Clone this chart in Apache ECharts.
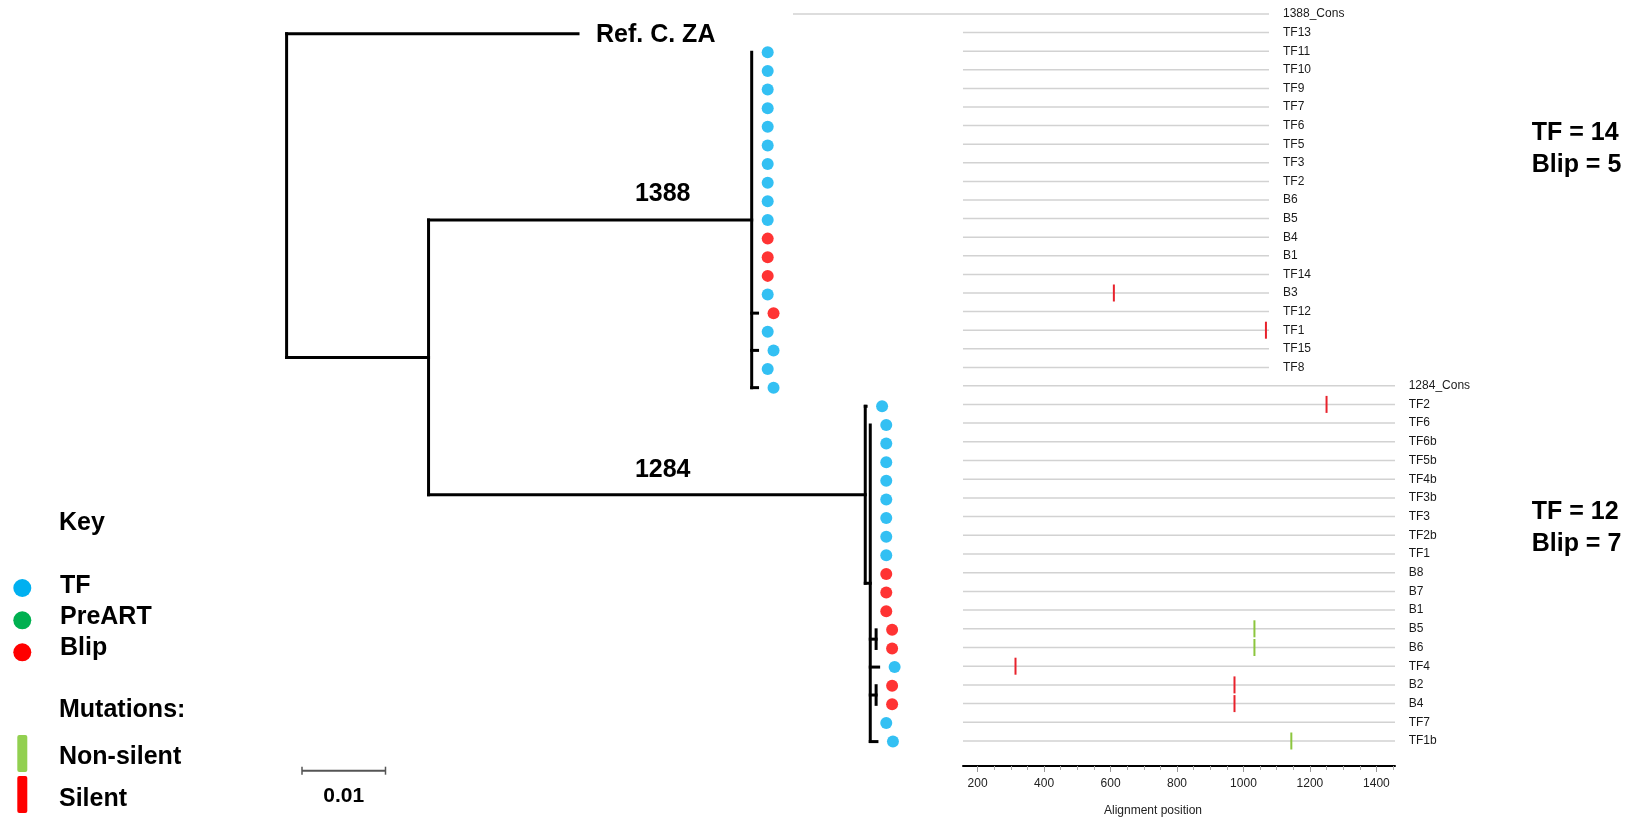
<!DOCTYPE html>
<html>
<head>
<meta charset="utf-8">
<title>1388 / 1284 tree and highlighter plot</title>
<script src="https://cdn.jsdelivr.net/npm/echarts@6/dist/echarts.min.js"></script>
<style>
  html, body { margin: 0; padding: 0; background: #fff; }
  #chart { width: 1626px; height: 818px; }
</style>
</head>
<body>
<div id="chart"></div>
<script>
  // ---------- tree ----------
  // internal nodes, divergence from root (substitutions / site)
  var nodeNames  = ['root', 'N1', 'N1388', 'N1284', 'N1284b', 'NB5B6', 'NB2B4'];
  var nodeParent = [null, 'root', 'N1', 'N1', 'N1284', 'N1284b', 'N1284b'];
  var nodeDist   = [0, 0.0170, 0.0557, 0.0693, 0.0699, 0.0706, 0.0706];

  // tips, top to bottom (row = position in these arrays)
  var tipParent = ['root',
    'N1388', 'N1388', 'N1388', 'N1388', 'N1388', 'N1388', 'N1388', 'N1388', 'N1388', 'N1388',
    'N1388', 'N1388', 'N1388', 'N1388', 'N1388', 'N1388', 'N1388', 'N1388', 'N1388',
    'N1284', 'N1284b', 'N1284b', 'N1284b', 'N1284b', 'N1284b', 'N1284b', 'N1284b', 'N1284b',
    'N1284b', 'N1284b', 'N1284b', 'NB5B6', 'NB5B6', 'N1284b', 'NB2B4', 'NB2B4', 'N1284b', 'N1284b'];
  var tipDist = [0.0349,
    0.0557, 0.0557, 0.0557, 0.0557, 0.0557, 0.0557, 0.0557, 0.0557, 0.0557, 0.0557,
    0.0557, 0.0557, 0.0557, 0.0557, 0.0564, 0.0557, 0.0564, 0.0557, 0.0564,
    0.0694, 0.0699, 0.0699, 0.0699, 0.0699, 0.0699, 0.0699, 0.0699, 0.0699,
    0.0699, 0.0699, 0.0699, 0.0706, 0.0706, 0.0709, 0.0706, 0.0706, 0.0699, 0.0707];
  var tipType = ['Ref',
    'TF', 'TF', 'TF', 'TF', 'TF', 'TF', 'TF', 'TF', 'TF', 'TF',
    'Blip', 'Blip', 'Blip', 'TF', 'Blip', 'TF', 'TF', 'TF', 'TF',
    'TF', 'TF', 'TF', 'TF', 'TF', 'TF', 'TF', 'TF', 'TF',
    'Blip', 'Blip', 'Blip', 'Blip', 'Blip', 'TF', 'Blip', 'Blip', 'TF', 'TF'];

  // ---------- highlighter plots ----------
  var upperNames = ['1388_Cons', 'TF13', 'TF11', 'TF10', 'TF9', 'TF7', 'TF6', 'TF5', 'TF3', 'TF2',
    'B6', 'B5', 'B4', 'B1', 'TF14', 'B3', 'TF12', 'TF1', 'TF15', 'TF8'];
  var lowerNames = ['1284_Cons', 'TF2', 'TF6', 'TF6b', 'TF5b', 'TF4b', 'TF3b', 'TF3', 'TF2b', 'TF1',
    'B8', 'B7', 'B1', 'B5', 'B6', 'TF4', 'B2', 'B4', 'TF7', 'TF1b'];
  var alignStart = 156;
  var alignEnd = 1456;
  var upperConsStart = -566;   // the 1388 consensus line runs further left

  // [sequence, alignment position, kind]
  var upperMutations = [['B3', 797, 'silent'], ['TF1', 1443, 'silent']];
  var lowerMutations = [['TF2', 1250, 'silent'], ['B5', 1033, 'nonsilent'], ['B6', 1033, 'nonsilent'],
    ['TF4', 314, 'silent'], ['B2', 973, 'silent'], ['B4', 973, 'silent'], ['TF1b', 1144, 'nonsilent']];

  var majorTicks = [200, 400, 600, 800, 1000, 1200, 1400];
  var minorTicks = [250, 300, 350, 450, 500, 550, 650, 700, 750, 850, 900, 950, 1050, 1100, 1150, 1250, 1300, 1350, 1450];

  var tipColors = { TF: '#00b0f0', PreART: '#00b050', Blip: '#ff0000' };
  var mutColors = { silent: '#e8222c', nonsilent: '#8cc63e' };
  var FONT = '"Liberation Sans", Arial, sans-serif';

  // build tree layout
  var nodes = {};
  nodeNames.forEach(function (n, i) {
    nodes[n] = { name: n, parent: nodeParent[i], dist: nodeDist[i], kids: [] };
  });
  var tips = tipParent.map(function (p, i) {
    return { parent: p, dist: tipDist[i], row: i, type: tipType[i] };
  });
  tips.forEach(function (t) { nodes[t.parent].kids.push(t); });
  nodeNames.forEach(function (n) {
    var p = nodes[n].parent;
    if (p) nodes[p].kids.push(nodes[n]);
  });
  function rowOf(n) {
    if (n.row !== undefined) return n.row;
    var rows = n.kids.map(rowOf);
    n.lo = Math.min.apply(null, rows);
    n.hi = Math.max.apply(null, rows);
    n.row = (n.lo + n.hi) / 2;
    return n.row;
  }
  rowOf(nodes.root);

  var branches = [];
  tips.concat(nodeNames.map(function (n) { return nodes[n]; })).forEach(function (n) {
    if (n.parent && n.dist > nodes[n.parent].dist) {
      branches.push([nodes[n.parent].dist, n.row, n.dist, n.row]);
    }
  });
  nodeNames.forEach(function (n) {
    var nd = nodes[n];
    branches.push([nd.dist, nd.lo, nd.dist, nd.hi]);
  });

  var tipDots = [];
  tips.forEach(function (t) {
    if (t.type === 'Ref') return;
    tipDots.push({ value: [t.dist, t.row], itemStyle: { color: tipColors[t.type] } });
  });

  function rowLines(names, consStart) {
    return names.map(function (n, i) {
      return [i === 0 && consStart !== undefined ? consStart : alignStart, alignEnd, i];
    });
  }
  function mutData(list, names) {
    return list.map(function (m) {
      return { value: [m[1], names.indexOf(m[0])], itemStyle: { color: mutColors[m[2]] } };
    });
  }

  function renderSegment(params, api) {
    var p1 = api.coord([api.value(0), api.value(1)]);
    var p2 = api.coord([api.value(2), api.value(3)]);
    return {
      type: 'line',
      shape: { x1: p1[0], y1: p1[1], x2: p2[0], y2: p2[1] },
      style: { stroke: '#000', lineWidth: 3, lineCap: 'square' }
    };
  }
  function renderRowLine(params, api) {
    var p1 = api.coord([api.value(0), api.value(2)]);
    var p2 = api.coord([api.value(1), api.value(2)]);
    return {
      type: 'line',
      shape: { x1: p1[0], y1: p1[1], x2: p2[0], y2: p2[1] },
      style: { stroke: '#d2d2d2', lineWidth: 1.5 }
    };
  }
  function renderMut(params, api) {
    var p = api.coord([api.value(0), api.value(1)]);
    return {
      type: 'rect',
      shape: { x: p[0] - 1, y: p[1] - 8.5, width: 2, height: 17 },
      style: { fill: api.visual('color') }
    };
  }

  function rowAxis(gridIndex, names, margin) {
    return {
      gridIndex: gridIndex, type: 'category', data: names, inverse: true, boundaryGap: false,
      position: 'right',
      axisLine: { show: false }, axisTick: { show: false }, splitLine: { show: false },
      axisLabel: { interval: 0, margin: margin, fontSize: 12, color: '#1a1a1a', fontFamily: FONT }
    };
  }

  var myChart = echarts.init(document.getElementById('chart'));

  var option = {
    animation: false,
    grid: [
      { left: 286.6, top: 33.7, width: 668, height: 707.9 },
      { left: 793, top: 14, width: 476, height: 353.4 },
      { left: 963, top: 385.7, width: 432, height: 355.3 }
    ],
    xAxis: [
      { gridIndex: 0, type: 'value', min: 0, max: 0.08, show: false },
      { gridIndex: 1, type: 'value', min: upperConsStart, max: alignEnd, show: false },
      {
        gridIndex: 2, type: 'value', min: alignStart, max: alignEnd, position: 'bottom', offset: 25,
        axisLine: { show: true, lineStyle: { color: '#000', width: 2 } },
        axisTick: { show: true, customValues: majorTicks, length: 6, lineStyle: { color: '#999' } },
        axisLabel: {
          customValues: majorTicks, margin: 12, fontSize: 12, color: '#222', fontFamily: FONT,
          formatter: function (v) { return String(v); }
        },
        splitLine: { show: false }
      },
      {
        gridIndex: 2, type: 'value', min: alignStart, max: alignEnd, position: 'bottom', offset: 25,
        axisLine: { show: false },
        axisTick: { show: true, customValues: minorTicks, length: 4, lineStyle: { color: '#aaa' } },
        axisLabel: { show: false },
        splitLine: { show: false }
      }
    ],
    yAxis: [
      { gridIndex: 0, type: 'value', min: 0, max: 38, inverse: true, show: false },
      rowAxis(1, upperNames, 14),
      rowAxis(2, lowerNames, 13.7)
    ],
    series: [
      {
        type: 'custom', xAxisIndex: 0, yAxisIndex: 0, renderItem: renderSegment,
        encode: { x: [0, 2], y: [1, 3] }, data: branches, z: 2
      },
      {
        type: 'scatter', xAxisIndex: 0, yAxisIndex: 0, symbol: 'circle', symbolSize: 12,
        symbolOffset: [16, 0], data: tipDots, z: 3
      },
      {
        type: 'custom', xAxisIndex: 1, yAxisIndex: 1, renderItem: renderRowLine,
        encode: { x: [0, 1], y: 2 }, data: rowLines(upperNames, upperConsStart), z: 1
      },
      {
        type: 'custom', xAxisIndex: 1, yAxisIndex: 1, renderItem: renderMut,
        encode: { x: 0, y: 1 }, data: mutData(upperMutations, upperNames), z: 4
      },
      {
        type: 'custom', xAxisIndex: 2, yAxisIndex: 2, renderItem: renderRowLine,
        encode: { x: [0, 1], y: 2 }, data: rowLines(lowerNames), z: 1
      },
      {
        type: 'custom', xAxisIndex: 2, yAxisIndex: 2, renderItem: renderMut,
        encode: { x: 0, y: 1 }, data: mutData(lowerMutations, lowerNames), z: 4
      }
    ]
  };
  myChart.setOption(option);

  // scale bar length comes from the tree's own axis
  var sx0 = myChart.convertToPixel({ xAxisIndex: 0 }, 0);
  var sx1 = myChart.convertToPixel({ xAxisIndex: 0 }, 0.01);
  var barLen = sx1 - sx0;
  var barLeft = 302, barY = 770.7;

  function txt(text, x, y, size, align, weight) {
    return {
      type: 'text', z: 10,
      style: {
        text: text, x: x, y: y, fill: '#000',
        font: (weight || 'bold') + ' ' + size + 'px ' + FONT,
        textAlign: align || 'left', textVerticalAlign: 'middle',
        align: align || 'left', verticalAlign: 'middle'
      }
    };
  }

  myChart.setOption({
    graphic: [
      txt('Ref. C. ZA', 596, 35, 25),
      txt('1388', 662.7, 194, 25, 'center'),
      txt('1284', 662.7, 470, 25, 'center'),
      txt('TF = 14', 1531.7, 133, 25),
      txt('Blip = 5', 1531.7, 165, 25),
      txt('TF = 12', 1531.7, 512, 25),
      txt('Blip = 7', 1531.7, 544, 25),
      {
        type: 'text', z: 10,
        style: {
          text: 'Alignment position', x: 1153, y: 810.5, fill: '#222',
          font: '12px ' + FONT, textAlign: 'center', textVerticalAlign: 'middle',
          align: 'center', verticalAlign: 'middle'
        }
      },
      // key
      txt('Key', 59, 523, 25),
      { type: 'circle', shape: { cx: 22.3, cy: 588, r: 9 }, style: { fill: tipColors.TF } },
      txt('TF', 60, 586, 25),
      { type: 'circle', shape: { cx: 22.3, cy: 620.3, r: 9 }, style: { fill: tipColors.PreART } },
      txt('PreART', 60, 617, 25),
      { type: 'circle', shape: { cx: 22.3, cy: 652.3, r: 9 }, style: { fill: tipColors.Blip } },
      txt('Blip', 60, 648, 25),
      txt('Mutations:', 59, 710, 25),
      { type: 'rect', shape: { x: 17.3, y: 735, width: 10, height: 37, r: 2 }, style: { fill: '#92d050' } },
      txt('Non-silent', 59, 757, 25),
      { type: 'rect', shape: { x: 17.3, y: 776, width: 10, height: 37, r: 2 }, style: { fill: '#ff0000' } },
      txt('Silent', 59, 799, 25),
      // scale bar
      {
        type: 'line', shape: { x1: barLeft, y1: barY, x2: barLeft + barLen, y2: barY },
        style: { stroke: '#555', lineWidth: 2 }
      },
      {
        type: 'line', shape: { x1: barLeft, y1: barY - 4, x2: barLeft, y2: barY + 4 },
        style: { stroke: '#555', lineWidth: 1.5 }
      },
      {
        type: 'line', shape: { x1: barLeft + barLen, y1: barY - 4, x2: barLeft + barLen, y2: barY + 4 },
        style: { stroke: '#555', lineWidth: 1.5 }
      },
      txt('0.01', barLeft + barLen / 2, 796.7, 21, 'center')
    ]
  });

  window.addEventListener('resize', function () {
    myChart.resize();
  });
</script>
</body>
</html>
